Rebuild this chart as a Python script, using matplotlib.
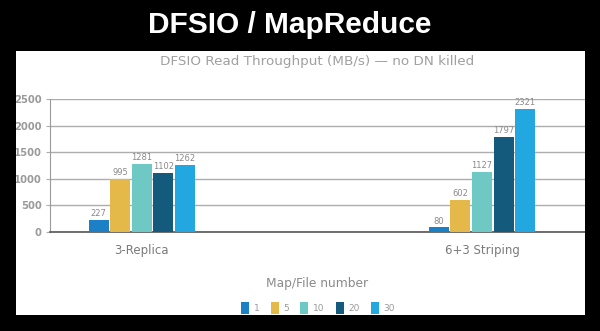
import matplotlib
matplotlib.use("Agg")
import matplotlib.pyplot as plt
import numpy as np
from matplotlib.patches import Rectangle

categories = ["3-Replica", "6+3 Striping"]
series_names = ["1", "5", "10", "20", "30"]
values = {
    "1": [227, 80],
    "5": [995, 602],
    "10": [1281, 1127],
    "20": [1102, 1797],
    "30": [1262, 2321],
}
yticks = [0, 500, 1000, 1500, 2000, 2500]
colors = ["#1c80c6", "#e4b94a", "#6ec9c5", "#135a7d", "#22a7e1"]

W, H = 600, 331
fig = plt.figure(figsize=(6, 3.31), dpi=100, facecolor="black")

# white panel
fig.patches.append(Rectangle((16 / W, 1 - 316 / H), (585 - 16) / W, (316 - 51) / H,
                             transform=fig.transFigure, facecolor="white",
                             edgecolor="none", zorder=-5))

ax = fig.add_axes([50 / W, 1 - 231.7 / H, (600 - 50) / W, (231.7 - 99.3) / H])
ax.set_zorder(1)
ax.set_facecolor("none")
x = np.arange(len(categories))
pitch = 0.0635
width = 0.059
n = len(series_names)
for i, (name, c) in enumerate(zip(series_names, colors)):
    xs = x + (i - (n - 1) / 2) * pitch
    bars = ax.bar(xs, values[name], width=width, color=c, zorder=3)
    for b, v in zip(bars, values[name]):
        ax.text(b.get_x() + b.get_width() / 2, v + 35, str(v), ha="center",
                va="bottom", fontsize=6, color="#8a8a8a", zorder=4)

ax.set_xlim(-0.27, 1 + (600 - 482) / 340)
ax.set_ylim(0, 2500)
ax.set_yticks(yticks)
ax.set_yticklabels([str(t) for t in yticks], fontsize=7.2, color="#9a9a9a",
                   fontweight="bold")
ax.yaxis.grid(True, color="#adadad", linewidth=1.0, zorder=0)
ax.set_axisbelow(True)
ax.tick_params(axis="y", length=3, color="#adadad", pad=3)
ax.tick_params(axis="x", length=0, pad=9)
ax.set_xticks(x)
ax.set_xticklabels(categories, fontsize=8.5, color="#7a7a7a")
for s in ["top", "right"]:
    ax.spines[s].set_visible(False)
ax.spines["left"].set_color("#9a9a9a")
ax.spines["bottom"].set_color("#555555")
ax.spines["bottom"].set_linewidth(1.2)

fig.text(290 / W, 1 - 25 / H, "DFSIO / MapReduce", ha="center", va="center",
         fontsize=21.5, fontweight="bold", color="white", family="Liberation Sans")
fig.text(317 / W, 1 - 62 / H, "DFSIO Read Throughput (MB/s) \u2014 no DN killed",
         ha="center", va="center", fontsize=9.7, color="#a0a0a0")
fig.text(317 / W, 1 - 283 / H, "Map/File number", ha="center", va="center",
         fontsize=8.8, color="#8a8a8a")

handles = [Rectangle((0, 0), 1, 1, facecolor=c) for c in colors]
leg = fig.legend(handles, series_names, loc="center", bbox_to_anchor=(318 / W, 1 - 308 / H),
                 ncol=5, frameon=False, fontsize=6.5, handlelength=0.9, handleheight=1.6,
                 handletextpad=0.5, columnspacing=1.25)
leg.set_zorder(5)
for t in leg.get_texts():
    t.set_color("#9a9a9a")

# black borders covering edges
for r in [(0, 0, 16 / W, 1), (585 / W, 0, 15 / W, 1), (0, 0, 1, 1 - 315 / H)]:
    fig.patches.append(Rectangle((r[0], r[1]), r[2], r[3], transform=fig.transFigure,
                                 facecolor="black", edgecolor="none", zorder=10))

fig.savefig("out.png", dpi=100, facecolor="black")
